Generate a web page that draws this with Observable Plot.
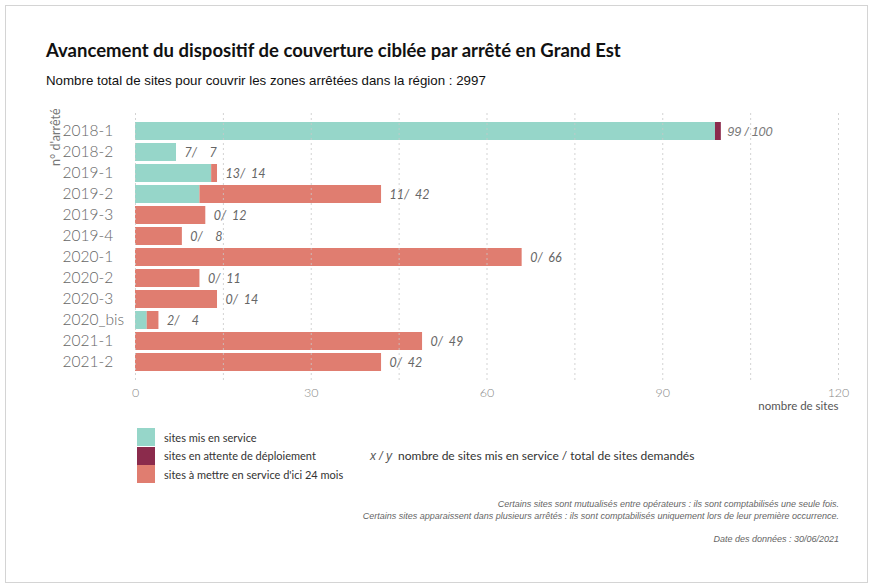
<!DOCTYPE html>
<html><head><meta charset="utf-8">
<script src="https://cdn.jsdelivr.net/npm/d3@7"></script>
<script src="https://cdn.jsdelivr.net/npm/@observablehq/plot@0.6"></script>
<style>
body{margin:0;background:#fff;font-family:Lato,"Noto Sans",sans-serif;}
#frame{position:absolute;left:5px;top:5px;width:863px;height:578px;border:1px solid #d4d4d4;box-sizing:border-box;}
#title{position:absolute;left:46px;top:39px;font:700 18.5px Lato,sans-serif;color:#111;}
#subtitle{position:absolute;left:46px;top:73px;font:13.3px "Liberation Sans",Arial,sans-serif;color:#111;}
#chart{position:absolute;left:0;top:100px;}
#legend{position:absolute;left:137px;top:428px;font:11px Lato,sans-serif;color:#333;}
.li{display:flex;align-items:center;height:18.5px;}
.sw{width:18px;height:18px;margin-right:9px;}
#xy{position:absolute;left:370px;top:448px;font:12px Lato,sans-serif;color:#333;white-space:pre;}
#xy i{font:italic 12px "Liberation Sans",sans-serif;color:#555;margin-right:6px;}
#caption{position:absolute;right:38px;top:498px;text-align:right;font:italic 9px "Liberation Sans",Arial,sans-serif;color:#666;line-height:12px;}
#date{position:absolute;right:38px;top:534px;font:italic 9px "Liberation Sans",Arial,sans-serif;color:#666;}
</style></head>
<body>
<div id="frame"></div>
<div id="title">Avancement du dispositif de couverture ciblée par arrêté en Grand Est</div>
<div id="subtitle">Nombre total de sites pour couvrir les zones arrêtées dans la région : 2997</div>
<div id="chart"></div>
<div id="legend"></div>
<div id="xy"><i>x / y</i>nombre de sites mis en service / total de sites demandés</div>
<div id="caption">Certains sites sont mutualisés entre opérateurs : ils sont comptabilisés une seule fois.<br>Certains sites apparaissent dans plusieurs arrêtés : ils sont comptabilisés uniquement lors de leur première occurrence.</div>
<div id="date">Date des données : 30/06/2021</div>
<script>
const arretes = ["2018-1","2018-2","2019-1","2019-2","2019-3","2019-4","2020-1","2020-2","2020-3","2020_bis","2021-1","2021-2"];
const enService = [99,7,13,11,0,0,0,0,0,2,0,0];
const enAttente = [1,0,0,0,0,0,0,0,0,0,0,0];
const aMettre  = [0,0,1,31,12,8,66,11,14,2,49,42];
const series = ["sites mis en service","sites en attente de déploiement","sites à mettre en service d'ici 24 mois"];
const colors = ["#96d6c9","#8b2b4c","#e07d70"];
const xTicks = [0,30,60,90,120];
const gridTicks = [0,15,30,45,60,75,90,105,120];

const rows = [];
arretes.forEach((a,i)=>{
  [enService[i],enAttente[i],aMettre[i]].forEach((v,k)=>{
    if (v>0) rows.push({arrete:a, serie:series[k], v});
  });
});
const totals = arretes.map((a,i)=>{
  const t = enService[i]+enAttente[i]+aMettre[i];
  const s = enService[i];
  const label = t>=100 ? `${s} / ${t}` : `${s}/\u2002${String(t).padStart(2,"\u2007")}`;
  return {arrete:a, total:t, label, big:t>=100};
});

const plot = Plot.plot({
  width: 877, height: 315,
  marginLeft: 135, marginRight: 39, marginTop: 13, marginBottom: 35,
  x: {domain:[0,120], ticks: xTicks, label: null, axis: null},
  y: {domain: arretes, padding: 0.14, label: null, axis: null},
  color: {domain: series, range: colors},
  style: {fontFamily: "Lato, sans-serif"},
  marks: [
    Plot.barX(rows, Plot.stackX({x:"v", y:"arrete", fill:"serie", order: series})),
    Plot.ruleX(gridTicks, {stroke:"#c8c8c8", strokeDasharray:"2,3", strokeOpacity:0.8}),
    Plot.text(totals.filter(d=>!d.big), {x:"total", y:"arrete", text:"label", textAnchor:"start", dx:8, fontStyle:"italic", fill:"#666", fontSize:12.5}),
    Plot.text(totals.filter(d=>d.big), {x:"total", y:"arrete", text:"label", textAnchor:"start", dx:6, fontStyle:"italic", fill:"#777", fontSize:12.5, fontFamily:"Liberation Sans, sans-serif"}),
    Plot.text(arretes, {y: d=>d, text: d=>d, frameAnchor:"left", textAnchor:"start", dx:-73, fill:"#666", fontSize:15.5, fontWeight:300}),
    Plot.axisX({ticks: xTicks, tickSize:0, tickPadding:8, fill:"#888", fontSize:12.5, fontWeight:300, label:null}),
    Plot.text(["nombre de sites"], {frameAnchor:"bottom-right", dy:29, dx:0, fill:"#555", fontSize:11.5}),
    Plot.text(["n° d'arrêté"], {frameAnchor:"top-left", rotate:-90, textAnchor:"end", dx:-84, dy:-5, fill:"#777", fontSize:12.5})
  ]
});
document.getElementById("chart").appendChild(plot);

const lg = document.getElementById("legend");
series.forEach((s,k)=>{
  const d = document.createElement("div"); d.className="li";
  d.innerHTML = `<span class="sw" style="background:${colors[k]}"></span><span>${s}</span>`;
  lg.appendChild(d);
});
</script>
</body></html>
